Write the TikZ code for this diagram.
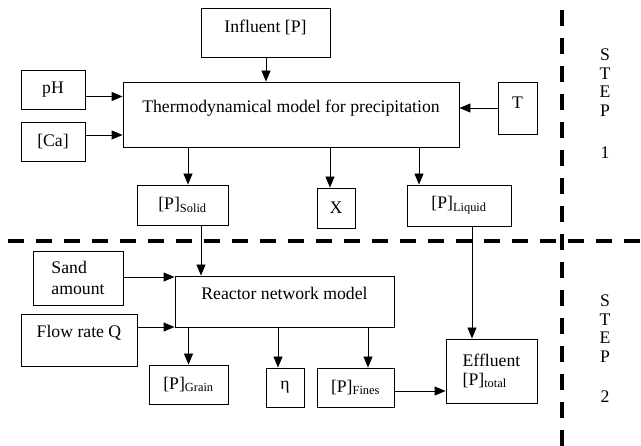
\documentclass[tikz,border=0pt]{standalone}
\usepackage{fontspec}
\setmainfont{Liberation Serif}
\usetikzlibrary{arrows.meta}

\begin{document}
\begin{tikzpicture}[x=1pt,y=-1pt]
\tikzstyle{every node}=[font=\fontsize{17.7}{20.5}\selectfont, inner sep=2pt]
\tikzstyle{box}=[draw, rectangle, line width=0.9pt]
\tikzstyle{arr}=[line width=0.9pt, -{Triangle[length=11pt,width=9pt]}]
\tikzstyle{stepline}=[line width=4pt, dash pattern=on 16pt off 12pt]
\tikzstyle{steptext}=[align=center, font=\fontsize{17.7}{18.5}\selectfont]
\useasboundingbox (0,0) rectangle (641,446);
% step 1
\node[box, minimum width=129pt, minimum height=49pt, align=center] (influent) at (265.5,32.5)
  {Influent [P]\\[-8pt]\mbox{}};
\node[box, minimum width=64pt, minimum height=39pt] (ph) at (53,89.5) {pH};
\node[box, minimum width=64pt, minimum height=39pt] (ca) at (53,141.5) {[Ca]};
\node[box, minimum width=336pt, minimum height=65pt, align=center] (thermo) at (291,114.5)
  {Thermodynamical model for precipitation\\[-4pt]\mbox{}};
\node[box, minimum width=39pt, minimum height=52pt, align=center] (temp) at (517.5,108) {T\\[-10pt]\mbox{}};
\node[box, minimum width=91pt, minimum height=40pt] (solid) at (182.5,205) {[P]\textsubscript{Solid}};
\node[box, minimum width=38pt, minimum height=40pt] (xout) at (336,208) {X};
\node[box, minimum width=104pt, minimum height=41pt] (liquid) at (459,205.5) {[P]\textsubscript{Liquid}};
% step 2
\node[box, minimum width=90pt, minimum height=54pt, align=left] (sand) at (78,278) {Sand\\amount};
\node[box, minimum width=116pt, minimum height=52pt, align=center] (flow) at (79,340) {Flow rate Q\\[-4pt]\mbox{}};
\node[box, minimum width=219pt, minimum height=51pt, align=center] (reactor) at (284.5,301.5)
  {Reactor network model\\[-4pt]\mbox{}};
\node[box, minimum width=79pt, minimum height=39pt] (grain) at (188.5,384.5) {[P]\textsubscript{Grain}};
\node[box, minimum width=38pt, minimum height=39pt] (eta) at (285,387.5) {η};
\node[box, minimum width=77pt, minimum height=39pt] (fines) at (355.5,387.5) {[P]\textsubscript{Fines}};
\node[box, minimum width=91pt, minimum height=64pt, align=left] (effluent) at (491.5,371)
  {Effluent\\[-2pt][P]\textsubscript{total}};

\draw[arr] (266,0 |- influent.south) -- (266,0 |- thermo.north);
\draw[arr] ([yshift=-7pt]ph.east) -- ([yshift=-7pt]ph.east -| thermo.west);
\draw[arr] ([yshift=6.5pt]ca.east) -- ([yshift=6.5pt]ca.east -| thermo.west);
\draw[arr] (temp.west) -- (temp.west -| thermo.east);
\draw[arr] (188,0 |- thermo.south) -- (188,0 |- solid.north);
\draw[arr] (330,0 |- thermo.south) -- (330,0 |- xout.north);
\draw[arr] (419,0 |- thermo.south) -- (419,0 |- liquid.north);
\draw[arr] (201,0 |- solid.south) -- (201,0 |- reactor.north);
\draw[arr] (472,0 |- liquid.south) -- (472,0 |- effluent.north);
\draw[arr] ([yshift=1pt]sand.east) -- ([yshift=1pt]sand.east -| reactor.west);
\draw[arr] ([yshift=13pt]flow.east) -- ([yshift=13pt]flow.east -| reactor.west);
\draw[arr] (grain.north |- reactor.south) -- (grain.north);
\draw[arr] (278,0 |- reactor.south) -- (278,0 |- eta.north);
\draw[arr] (368,0 |- reactor.south) -- (368,0 |- fines.north);
\draw[arr] ([yshift=-3.5pt]fines.east) -- ([yshift=-3.5pt]fines.east -| effluent.west);

% step separators
\draw[stepline] (8,241) -- (641,241);
\draw[stepline] (562,10) -- (562,446);
\node[steptext] (step1) at (605,104) {S\\T\\E\\P\\[24pt]1};
\node[steptext] (step2) at (605,349) {S\\T\\E\\P\\[22pt]2};
\end{tikzpicture}
\end{document}
